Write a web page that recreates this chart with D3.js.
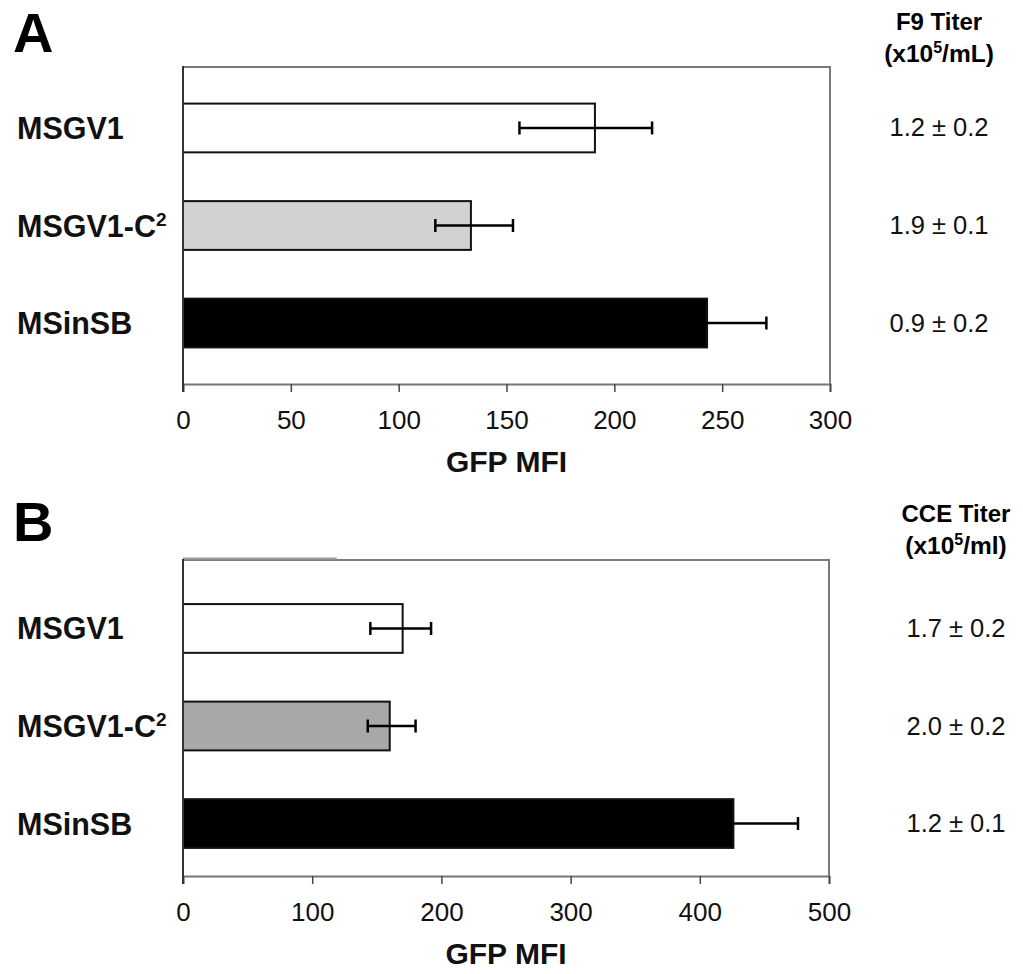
<!DOCTYPE html>
<html>
<head>
<meta charset="utf-8">
<script src="https://cdn.jsdelivr.net/npm/d3@7"></script>
<style>
  body { margin: 0; background: #fff; }
  svg { font-family: "Liberation Sans", Arial, sans-serif; }
</style>
</head>
<body>
<div id="graph"></div>
<script>
// categories, shared by both panels
var categories = ["MSGV1", "MSGV1-C2", "MSinSB"];

// panel A (F9 cells)
var valuesA = [191, 133.5, 243];
var errLowA = [156, 117, 216];
var errHighA = [217.5, 153, 270.5];
var titerA = ["1.2 \u00b1 0.2", "1.9 \u00b1 0.1", "0.9 \u00b1 0.2"];
var ticksA = [0, 50, 100, 150, 200, 250, 300];

// panel B (CCE cells)
var valuesB = [170, 160, 426];
var errLowB = [145, 143, 376];
var errHighB = [192, 180, 476];
var titerB = ["1.7 \u00b1 0.2", "2.0 \u00b1 0.2", "1.2 \u00b1 0.1"];
var ticksB = [0, 100, 200, 300, 400, 500];

var fillsA = ["#ffffff", "#d2d2d2", "#000000"];
var fillsB = ["#ffffff", "#a8a8a8", "#000000"];

var svg = d3.select("#graph").append("svg")
    .attr("width", 1023)
    .attr("height", 974);

function drawPanel(p) {
    var g = svg.append("g");
    var x = d3.scaleLinear().domain([0, p.max]).range([183, p.right]);
    var y = d3.scaleBand().domain(categories)
        .range(p.bandRange)
        .paddingInner(0.5)
        .paddingOuter(0.375);

    // panel letter
    g.append("text")
        .attr("x", 13).attr("y", p.letterY)
        .attr("font-size", 56).attr("font-weight", "bold")
        .text(p.letter);

    // frame: top and right in grey
    g.append("path")
        .attr("d", "M183," + p.top + "H" + p.right + "V" + p.bottom)
        .attr("fill", "none").attr("stroke", "#7a7a7a").attr("stroke-width", 2);

    if (p.topMark) {
        g.append("line")
            .attr("x1", x(0)).attr("x2", x(p.topMark))
            .attr("y1", p.top - 1.5).attr("y2", p.top - 1.5)
            .attr("stroke", "#a0a0a0").attr("stroke-width", 2);
    }

    // bars
    g.selectAll("rect.bar").data(categories).enter().append("rect")
        .attr("class", "bar")
        .attr("x", x(0))
        .attr("y", function (d) { return y(d); })
        .attr("width", function (d, i) { return x(p.values[i]) - x(0); })
        .attr("height", y.bandwidth())
        .attr("fill", function (d, i) { return p.fills[i]; })
        .attr("stroke", "#111").attr("stroke-width", 2);

    // error bars
    var eb = g.selectAll("g.err").data(categories).enter().append("g")
        .attr("class", "err")
        .attr("transform", function (d) { return "translate(0," + (y(d) + y.bandwidth() / 2) + ")"; });
    eb.append("line")
        .attr("x1", function (d, i) { return x(p.lo[i]); })
        .attr("x2", function (d, i) { return x(p.hi[i]); })
        .attr("stroke", "#000").attr("stroke-width", 2.5);
    eb.append("line")
        .attr("x1", function (d, i) { return x(p.lo[i]); })
        .attr("x2", function (d, i) { return x(p.lo[i]); })
        .attr("y1", -6.5).attr("y2", 6.5)
        .attr("stroke", "#000").attr("stroke-width", 2.5);
    eb.append("line")
        .attr("x1", function (d, i) { return x(p.hi[i]); })
        .attr("x2", function (d, i) { return x(p.hi[i]); })
        .attr("y1", -6.5).attr("y2", 6.5)
        .attr("stroke", "#000").attr("stroke-width", 2.5);

    // category labels
    var lab = g.selectAll("text.cat").data(categories).enter().append("text")
        .attr("class", "cat")
        .attr("x", 17)
        .attr("y", function (d) { return y(d) + y.bandwidth() / 2 + 11; })
        .attr("font-size", 30.5).attr("font-weight", "bold")
        .attr("fill", "#111");
    lab.each(function (d) {
        var t = d3.select(this);
        if (d === "MSGV1-C2") {
            t.append("tspan").text("MSGV1-C");
            t.append("tspan").attr("font-size", 19).attr("dy", -11).text("2");
        } else {
            t.text(d);
        }
    });

    // titer values
    g.selectAll("text.titer").data(p.titer).enter().append("text")
        .attr("class", "titer")
        .attr("x", p.titerX)
        .attr("y", function (d, i) { return y(categories[i]) + y.bandwidth() / 2 + 8.5; })
        .attr("text-anchor", "middle")
        .attr("font-size", 25.5)
        .attr("fill", "#111")
        .text(function (d) { return d; });

    // titer header
    g.append("text")
        .attr("x", p.titerX).attr("y", p.headY)
        .attr("text-anchor", "middle")
        .attr("font-size", 24).attr("font-weight", "bold")
        .text(p.head);
    var h2 = g.append("text")
        .attr("x", p.titerX).attr("y", p.headY + 32)
        .attr("text-anchor", "middle")
        .attr("font-size", 24.5).attr("font-weight", "bold");
    h2.append("tspan").text("(x10");
    h2.append("tspan").attr("font-size", 16).attr("dy", -9).text("5");
    h2.append("tspan").attr("dy", 9).text(p.unit);

    // x axis
    var axis = g.append("g")
        .attr("transform", "translate(0," + p.bottom + ")")
        .call(d3.axisBottom(x).tickValues(p.ticks).tickSize(8).tickPadding(19));
    axis.select(".domain").attr("stroke", "#777").attr("stroke-width", 2);
    axis.selectAll(".tick line").attr("stroke", "#444").attr("stroke-width", 1.5);
    axis.selectAll(".tick text")
        .attr("font-size", 26).attr("fill", "#111")
        .attr("font-family", "Liberation Sans, Arial, sans-serif");

    // left axis line
    g.append("line")
        .attr("x1", 183).attr("x2", 183)
        .attr("y1", p.top - 1).attr("y2", p.bottom + 8)
        .attr("stroke", "#333").attr("stroke-width", 2);

    g.append("text")
        .attr("x", (183 + p.right) / 2).attr("y", p.bottom + 88)
        .attr("text-anchor", "middle")
        .attr("font-size", 30).attr("font-weight", "bold")
        .attr("fill", "#111")
        .text("GFP MFI");
}

drawPanel({
    letter: "A", letterY: 52, max: 300, right: 830,
    top: 67, bottom: 384, bandRange: [67, 384],
    values: valuesA, lo: errLowA, hi: errHighA, fills: fillsA,
    titer: titerA, titerX: 939, headY: 30, head: "F9 Titer", unit: "/mL)",
    ticks: ticksA
});

drawPanel({
    letter: "B", letterY: 541, max: 500, right: 829,
    top: 560, bottom: 876, bandRange: [567.5, 884.5],
    values: valuesB, lo: errLowB, hi: errHighB, fills: fillsB,
    titer: titerB, titerX: 956, headY: 522, head: "CCE Titer", unit: "/ml)",
    ticks: ticksB, topMark: 119
});
</script>
</body>
</html>
